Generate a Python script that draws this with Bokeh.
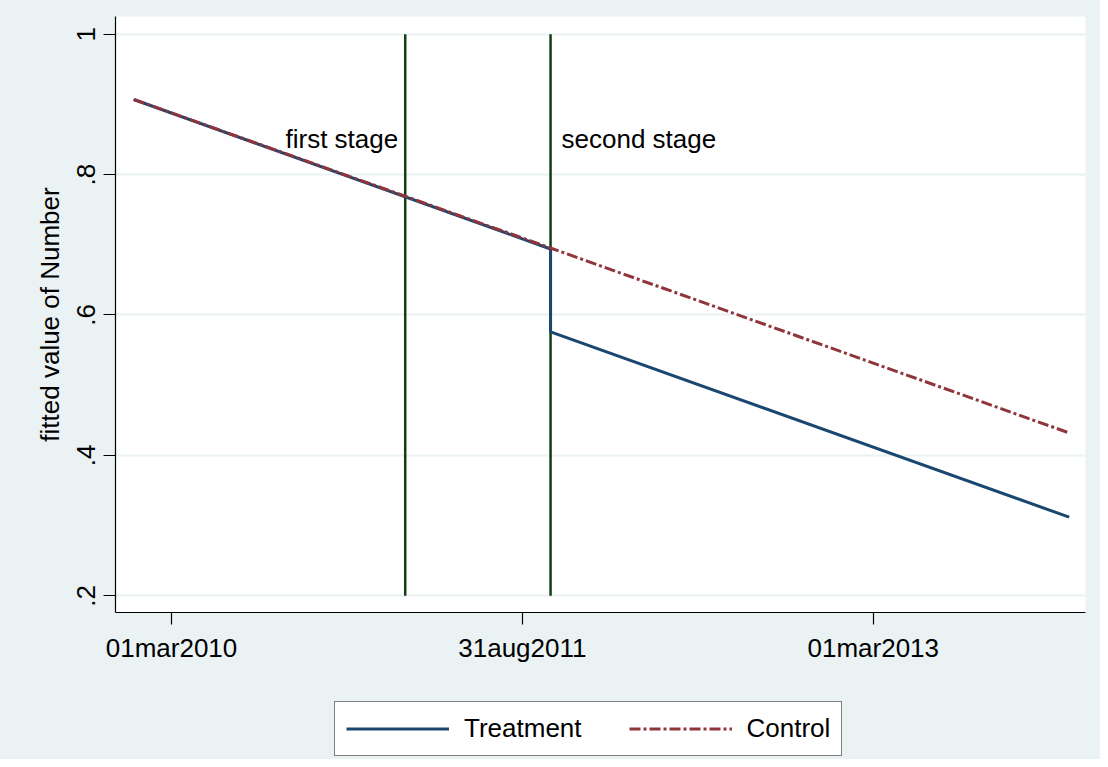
import pandas as pd
from bokeh.plotting import figure
from bokeh.layouts import column
from bokeh.models import Range1d, FixedTicker, Legend, LegendItem
from bokeh.core.properties import value
from bokeh.embed import file_html
from bokeh.resources import INLINE

# ---- data ----
treat_dates = ["2010-01-01", "2011-10-14", "2011-10-14", "2014-01-01"]
treat_values = [0.907, 0.694, 0.576, 0.312]
control_dates = ["2010-01-01", "2014-01-01"]
control_values = [0.907, 0.432]
stage_dates = ["2011-03-01", "2011-10-14"]
stage_labels = ["first stage", "second stage"]
x_tick_dates = ["2010-03-01", "2011-08-31", "2013-03-01"]
x_tick_labels = ["01mar2010", "31aug2011", "01mar2013"]
y_ticks = [0.2, 0.4, 0.6, 0.8, 1.0]
y_tick_labels = [".2", ".4", ".6", ".8", "1"]
series_names = ["Treatment", "Control"]


def to_ms(dates):
    return [float((pd.Timestamp(d) - pd.Timestamp("1970-01-01")) / pd.Timedelta(milliseconds=1)) for d in dates]


FONT = "Liberation Sans"
BG = "#EAF2F3"
NAVY = "#1A476F"
MAROON = "#90353B"
DKGREEN = "#123F12"
DAY = 86400000.0
DASH = "11 3 3 3"

x_ticks_ms = to_ms(x_tick_dates)
x0 = x_ticks_ms[0] - 87.5 * DAY
x1 = x_ticks_ms[0] + 1427.5 * DAY

W = 1100
H_MAIN = 680
H_LEG = 79

p = figure(width=W, height=H_MAIN, x_axis_type="datetime",
           output_backend="svg", toolbar_location=None,
           x_range=Range1d(x0, x1), y_range=Range1d(0.1762, 1.0252),
           min_border_left=115, min_border_top=16, min_border_right=15,
           min_border_bottom=68,
           background_fill_color="white", border_fill_color=BG,
           outline_line_color=None)

# grid
p.xgrid.visible = False
p.ygrid.ticker = FixedTicker(ticks=y_ticks)
p.ygrid.grid_line_color = BG
p.ygrid.grid_line_width = 2

# axes
p.xaxis.ticker = FixedTicker(ticks=x_ticks_ms, minor_ticks=[])
p.xaxis.major_label_overrides = {t: l for t, l in zip(x_ticks_ms, x_tick_labels)}
p.yaxis.ticker = FixedTicker(ticks=y_ticks, minor_ticks=[])
p.yaxis.major_label_overrides = {t: l for t, l in zip(y_ticks, y_tick_labels)}
p.yaxis.major_label_orientation = "vertical"
p.yaxis.axis_label = "fitted value of Number"
for ax in (p.xaxis, p.yaxis):
    ax.axis_line_color = "black"
    ax.axis_line_width = 1.2
    ax.major_tick_line_color = "black"
    ax.major_tick_line_width = 1.2
    ax.major_tick_out = 12
    ax.major_tick_in = 0
    ax.minor_tick_line_color = None
    ax.major_label_text_font = FONT
    ax.major_label_text_font_size = "26px"
    ax.major_label_text_color = "black"
    ax.axis_label_text_font = FONT
    ax.axis_label_text_font_size = "26px"
    ax.axis_label_text_font_style = "normal"
    ax.axis_label_text_color = "black"
p.xaxis.major_label_standoff = 8
p.yaxis.major_label_standoff = 8
p.yaxis.axis_label_standoff = 10

# vertical stage lines
stage_ms = to_ms(stage_dates)
p.segment(x0=stage_ms, y0=[y_ticks[0]] * 2, x1=stage_ms, y1=[y_ticks[-1]] * 2,
          line_color=DKGREEN, line_width=2.5)

# data lines
p.line(x=to_ms(treat_dates), y=treat_values, line_color=NAVY, line_width=3)
p.line(x=to_ms(control_dates), y=control_values, line_color=MAROON,
       line_width=3, line_dash=DASH)

# stage labels
label_y = 0.85
p.text(x=[stage_ms[0]], y=[label_y], text=[stage_labels[0]], text_align="right",
       text_baseline="middle", x_offset=-7, text_font=value(FONT),
       text_font_size="26px", text_color="black")
p.text(x=[stage_ms[1]], y=[label_y], text=[stage_labels[1]], text_align="left",
       text_baseline="middle", x_offset=11, text_font=value(FONT),
       text_font_size="26px", text_color="black")

# ---- legend strip (continuation of the gray graph region) ----
pl = figure(width=W, height=H_LEG, output_backend="svg", toolbar_location=None,
            x_range=Range1d(0, 1), y_range=Range1d(0, 1),
            min_border_left=115, min_border_right=15, min_border_top=0,
            min_border_bottom=0, background_fill_color=BG,
            background_fill_alpha=0.0,
            border_fill_color=BG, outline_line_color=None)
pl.axis.visible = False
pl.grid.visible = False
# same series, outside this strip's ranges: only their legend keys show
lt = pl.line(x=to_ms(treat_dates), y=treat_values, line_color=NAVY, line_width=3)
lc = pl.line(x=to_ms(control_dates), y=control_values, line_color=MAROON,
             line_width=3, line_dash=DASH)

legend = Legend(items=[LegendItem(label=series_names[0], renderers=[lt]),
                       LegendItem(label=series_names[1], renderers=[lc])],
                orientation="horizontal", location=(219, 3),
                glyph_width=103, glyph_height=31, label_standoff=15,
                spacing=47, padding=11, margin=0,
                label_text_font=FONT, label_text_font_size="26px",
                label_text_color="black",
                border_line_color="black", border_line_width=1.2,
                background_fill_color="white", background_fill_alpha=1.0)
pl.add_layout(legend)

layout = column(p, pl, spacing=0, styles={"background-color": BG})
open("out.html", "w").write(file_html(layout, INLINE))
